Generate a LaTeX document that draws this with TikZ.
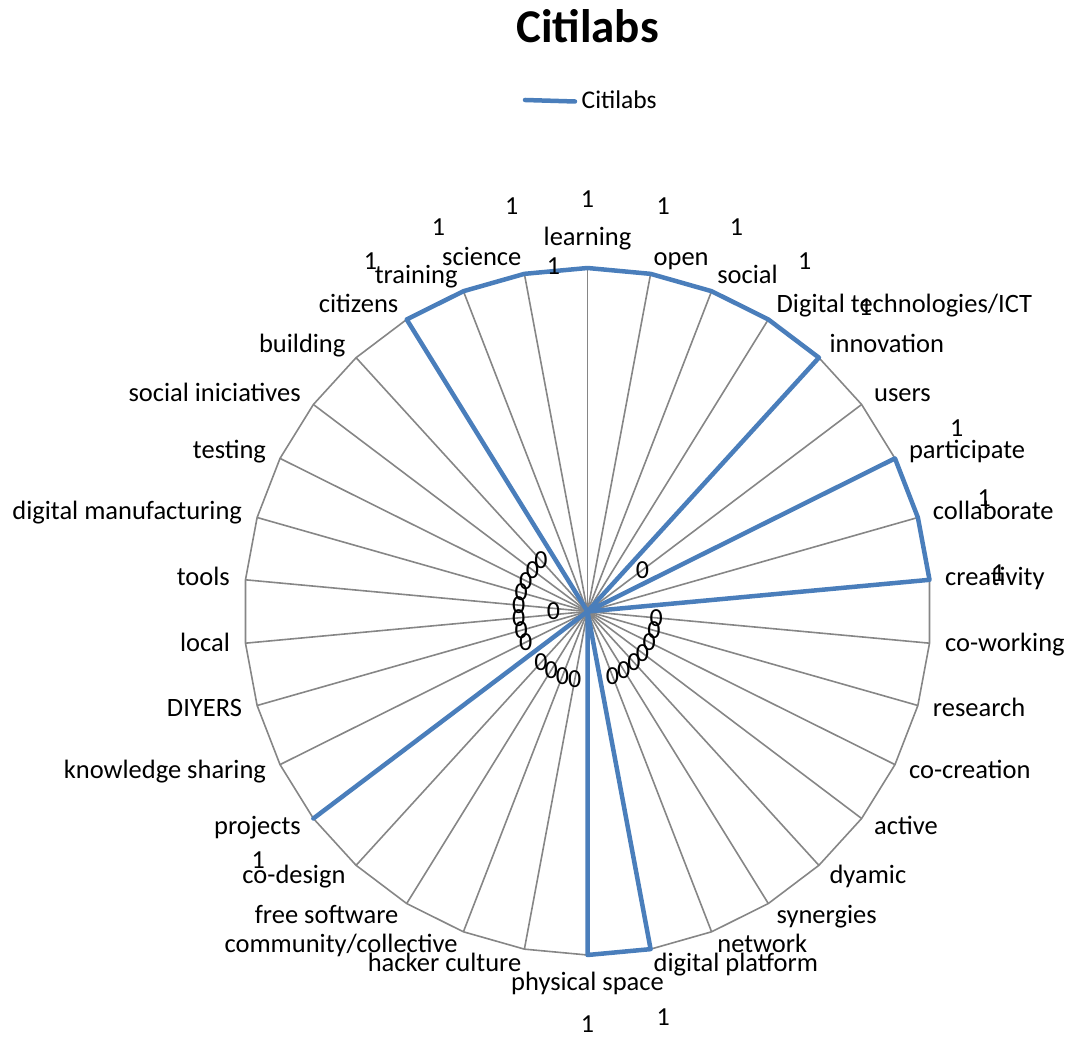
\documentclass[tikz,border=0pt]{standalone}
\usepackage{fontspec}
\setmainfont{Carlito}
\usetikzlibrary{backgrounds}
\definecolor{seriesblue}{HTML}{4A7EBB}
\definecolor{webgray}{HTML}{868686}

\begin{document}
\begin{tikzpicture}[x=1pt, y=1pt,
    spoke/.style={draw=webgray, line width=1.6pt},
    series/.style={draw=seriesblue, line width=4.5pt, line join=round, line cap=round},
    catlabel/.style={font=\fontsize{26.5}{32}\selectfont, inner sep=0pt, text height=20pt, text depth=6.6pt},
    datalabel/.style={font=\fontsize{26}{31}\selectfont, inner sep=0pt}]
    \useasboundingbox (-587.5,-426.5) rectangle (485.5,611.5);
    \coordinate (ctr) at (0,0);

    % title and legend
    \node[font=\fontsize{47}{56}\selectfont\bfseries, anchor=base] (title) at (0,568.5) {Citilabs};
    \coordinate (legA) at (-62.5,511.5);
    \node[catlabel, font=\fontsize{25.5}{30}\selectfont, anchor=west, inner xsep=6.5pt] (legend) at (-12.5,510) {Citilabs};
    \draw[series] (legA) -- (legend.west);

    % categories, values and their labels
    \foreach \lab/\anc/\val [count=\i from 0] in {learning/south/1, open/west/1, social/west/1,
        {Digital technologies/ICT}/west/1, innovation/west/1, users/west/0, participate/west/1,
        collaborate/west/1, creativity/west/1, co-working/west/0, research/west/0,
        co-creation/west/0, active/west/0, dyamic/west/0, synergies/west/0, network/west/0,
        digital platform/west/1, physical space/north/1, hacker culture/east/0,
        {community/collective}/east/0, free software/east/0, co-design/east/0, projects/east/1,
        knowledge sharing/east/0, DIYERS/east/0, local/east/0, tools/east/0,
        digital manufacturing/east/0, testing/east/0, social iniciatives/east/0,
        building/east/0, citizens/east/1, training/east/1, science/east/1} {
        \pgfmathsetmacro\ang{90-\i*360/34}
        \pgfmathsetmacro\rv{\val*343.5}
        \pgfmathsetmacro\rl{\val*343.5+69}
        \coordinate (rim\i) at (\ang:343.5);
        \coordinate (pt\i) at (\ang:\rv);
        \node[catlabel, anchor=\anc] (cat\i) at (\ang:359) {\lab};
        \node[datalabel] (dat\i) at (\ang:\rl) {\val};
    }

    % value axis
    \node[datalabel] (axis0) at (-34,0) {0};
    \node[datalabel] (axis1) at (-34,345) {1};

    \begin{scope}[on background layer]
        \foreach \i in {0,...,33}
            \draw[spoke] (ctr) -- (rim\i);
        \draw[spoke] (rim0) \foreach \i in {1,...,33}{ -- (rim\i)} -- cycle;
        \draw[series] (pt0) \foreach \i in {1,...,33}{ -- (pt\i)} -- cycle;
    \end{scope}
\end{tikzpicture}
\end{document}
